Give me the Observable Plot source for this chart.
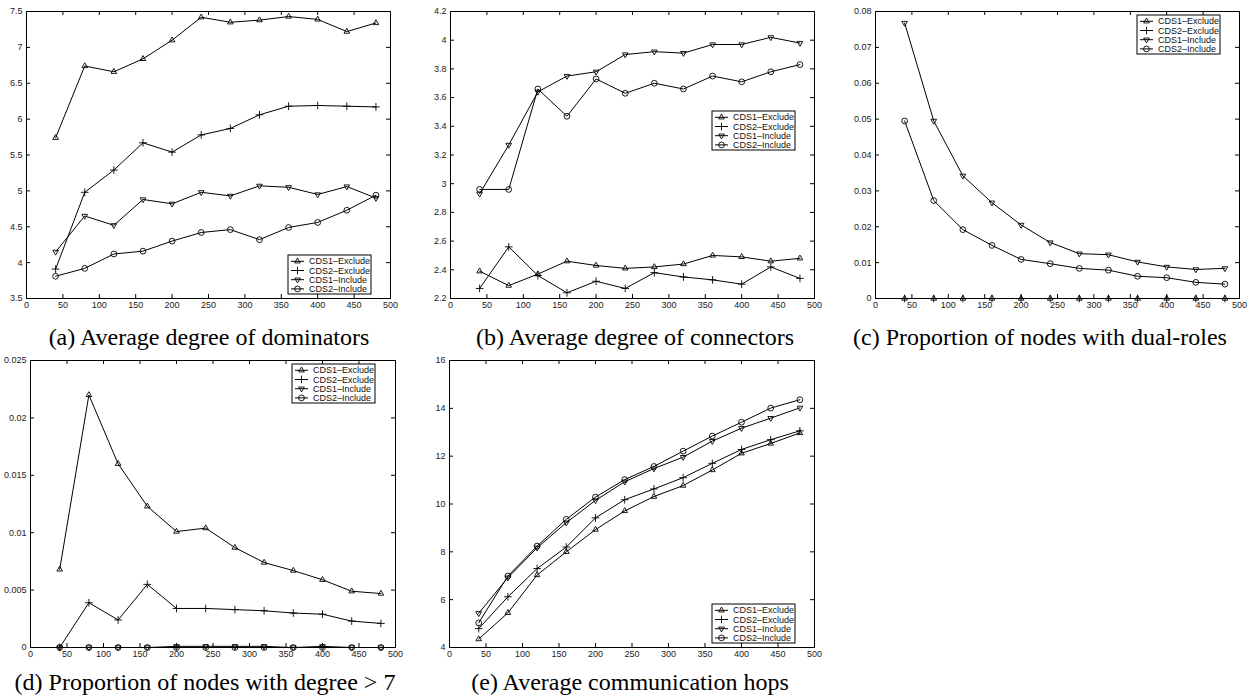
<!DOCTYPE html>
<html><head><meta charset="utf-8">
<script src="https://cdn.jsdelivr.net/npm/d3@7"></script>
<script src="https://cdn.jsdelivr.net/npm/@observablehq/plot@0.6"></script>
<style>
body{margin:0;background:#fff;overflow:hidden}
#root{position:relative;width:1250px;height:698px;background:#fff}
.panel{position:absolute}
.cap{position:absolute;font-family:"Liberation Serif","Times New Roman",serif;font-size:24px;white-space:nowrap;transform:translateX(-50%);line-height:1;color:#000}
</style></head><body><div id="root"></div>
<script>
// ---------- data ----------
const nodes = [40, 80, 120, 160, 200, 240, 280, 320, 360, 400, 440, 480];
const seriesNames = ["CDS1–Exclude", "CDS2–Exclude", "CDS1–Include", "CDS2–Include"];
const xTicks = [0, 50, 100, 150, 200, 250, 300, 350, 400, 450, 500];

// (a) Average degree of dominators
const aCDS1Exclude = [5.74, 6.74, 6.66, 6.84, 7.10, 7.42, 7.35, 7.38, 7.43, 7.39, 7.22, 7.34];
const aCDS2Exclude = [3.91, 4.98, 5.29, 5.67, 5.54, 5.78, 5.87, 6.06, 6.18, 6.19, 6.18, 6.17];
const aCDS1Include = [4.15, 4.65, 4.52, 4.88, 4.82, 4.98, 4.93, 5.07, 5.05, 4.95, 5.06, 4.90];
const aCDS2Include = [3.81, 3.92, 4.12, 4.16, 4.30, 4.42, 4.46, 4.32, 4.49, 4.56, 4.73, 4.94];
const aYTicks = [3.5, 4, 4.5, 5, 5.5, 6, 6.5, 7, 7.5];
const aCaption = "(a) Average degree of dominators";

// (b) Average degree of connectors
const bCDS1Exclude = [2.39, 2.29, 2.37, 2.46, 2.43, 2.41, 2.42, 2.44, 2.50, 2.49, 2.46, 2.48];
const bCDS2Exclude = [2.27, 2.56, 2.36, 2.24, 2.32, 2.27, 2.38, 2.35, 2.33, 2.30, 2.42, 2.34];
const bCDS1Include = [2.93, 3.27, 3.64, 3.75, 3.78, 3.90, 3.92, 3.91, 3.97, 3.97, 4.02, 3.98];
const bCDS2Include = [2.96, 2.96, 3.66, 3.47, 3.73, 3.63, 3.70, 3.66, 3.75, 3.71, 3.78, 3.83];
const bYTicks = [2.2, 2.4, 2.6, 2.8, 3, 3.2, 3.4, 3.6, 3.8, 4, 4.2];
const bCaption = "(b) Average degree of connectors";

// (c) Proportion of nodes with dual-roles
const cCDS1Exclude = [0, 0, 0, 0, 0, 0, 0, 0, 0, 0, 0, 0];
const cCDS2Exclude = [0, 0, 0, 0, 0, 0, 0, 0, 0, 0, 0, 0];
const cCDS1Include = [0.0768, 0.0495, 0.0342, 0.0267, 0.0205, 0.0156, 0.0125, 0.0122, 0.0102, 0.0088, 0.0081, 0.0084];
const cCDS2Include = [0.0495, 0.0273, 0.0192, 0.0148, 0.0109, 0.0097, 0.0084, 0.0079, 0.0062, 0.0058, 0.0045, 0.0040];
const cYTicks = [0, 0.01, 0.02, 0.03, 0.04, 0.05, 0.06, 0.07, 0.08];
const cCaption = "(c) Proportion of nodes with dual-roles";

// (d) Proportion of nodes with degree > 7
const dCDS1Exclude = [0.0068, 0.0220, 0.0160, 0.0123, 0.0101, 0.0104, 0.0087, 0.0074, 0.0067, 0.0059, 0.0049, 0.0047];
const dCDS2Exclude = [0, 0.0039, 0.0024, 0.0055, 0.0034, 0.0034, 0.0033, 0.0032, 0.0030, 0.0029, 0.0023, 0.0021];
const dCDS1Include = [0, 0, 0, 0, 0.0001, 0.0001, 0.0001, 0.0001, 0, 0.0001, 0, 0];
const dCDS2Include = [0, 0, 0, 0, 0, 0, 0, 0, 0, 0, 0, 0];
const dYTicks = [0, 0.005, 0.01, 0.015, 0.02, 0.025];
const dCaption = "(d) Proportion of nodes with degree > 7";

// (e) Average communication hops
const eCDS1Exclude = [4.35, 5.45, 7.03, 8.00, 8.93, 9.71, 10.31, 10.77, 11.42, 12.12, 12.53, 12.97];
const eCDS2Exclude = [4.79, 6.12, 7.30, 8.20, 9.42, 10.18, 10.63, 11.10, 11.70, 12.28, 12.69, 13.06];
const eCDS1Include = [5.43, 6.92, 8.17, 9.22, 10.15, 10.93, 11.48, 11.96, 12.63, 13.17, 13.59, 14.02];
const eCDS2Include = [5.03, 6.99, 8.24, 9.36, 10.29, 11.02, 11.57, 12.21, 12.84, 13.42, 14.01, 14.36];
const eYTicks = [4, 6, 8, 10, 12, 14, 16];
const eCaption = "(e) Average communication hops";

// ---------- symbols ----------
const triDown = {
  draw(context, size) {
    const s = Math.sqrt(size) * 0.6824, t = s / 2, u = s * Math.sqrt(3) / 2;
    context.moveTo(0, s); context.lineTo(u, -t); context.lineTo(-u, -t); context.closePath();
  }
};
const markerSymbols = ["triangle2", "plus", triDown, "circle"];
const markerR = [2.7, 2.6, 2.7, 2.9];
const d3Sym = [d3.symbolTriangle2, d3.symbolPlus, triDown, d3.symbolCircle];

const root = document.getElementById("root");

function panel(cfg) {
  const {L, T, R, B, yDomain, yTicks, series, legend, caption, capX, capY} = cfg;
  const mL = 30, mT = 8, mR = 14, mB = 18;
  const W = R - L, H = B - T;
  const rows = [];
  series.forEach((vals, si) => vals.forEach((v, i) => rows.push({series: seriesNames[si], si, x: nodes[i], y: v})));
  const marks = [
    Plot.axisX({ticks: xTicks, tickSize: 0, tickPadding: 3, label: null, tickFormat: d => String(d)}),
    Plot.axisY({ticks: yTicks, tickSize: 0, tickPadding: 4, label: null, tickFormat: d => String(+d.toFixed(4))}),
    Plot.tickX(xTicks, {x: d => d, insetTop: H - 4, stroke: "black"}),
    Plot.tickX(xTicks, {x: d => d, insetBottom: H - 4, stroke: "black"}),
    Plot.tickY(yTicks, {y: d => d, insetRight: W - 4, stroke: "black"}),
    Plot.tickY(yTicks, {y: d => d, insetLeft: W - 4, stroke: "black"}),
    Plot.line(rows, {x: "x", y: "y", z: "series", stroke: "black", strokeWidth: 1})
  ];
  for (let si = 0; si < 4; si++) {
    marks.push(Plot.dot(rows.filter(r => r.si === si), {x: "x", y: "y", symbol: markerSymbols[si], r: markerR[si], stroke: "black", fill: "none", strokeWidth: 0.9}));
  }
  marks.push(Plot.frame({stroke: "black", strokeWidth: 1}));
  const svg = Plot.plot({
    width: W + mL + mR, height: H + mT + mB,
    marginLeft: mL, marginRight: mR, marginTop: mT, marginBottom: mB,
    x: {domain: [0, 500]}, y: {domain: yDomain},
    style: {fontFamily: "'Liberation Sans', Arial, sans-serif", fontSize: "9px", color: "#222", background: "transparent", overflow: "visible"},
    marks
  });
  const sl = L - mL, st = T - mT;
  svg.classList.add("panel");
  svg.style.left = sl + "px"; svg.style.top = st + "px";
  // legend
  const g = d3.select(svg).append("g").attr("transform", `translate(${legend.x - sl},${legend.y - st})`)
    .attr("text-anchor", "start");
  const lw = 83, lh = 39;
  g.append("rect").attr("width", lw).attr("height", lh).attr("fill", "white").attr("stroke", "black").attr("stroke-width", 1);
  seriesNames.forEach((name, i) => {
    const cy = 6.3 + i * 9.2;
    g.append("line").attr("x1", 3).attr("x2", 16).attr("y1", cy).attr("y2", cy).attr("stroke", "black");
    g.append("path").attr("d", d3.symbol(d3Sym[i], markerR[i] * markerR[i] * Math.PI)()).attr("transform", `translate(9.5,${cy})`).attr("fill", "none").attr("stroke", "black").attr("stroke-width", 0.9);
    g.append("text").attr("x", 21).attr("y", cy).attr("dy", "0.35em").attr("font-size", 9).attr("fill", "#111").attr("text-anchor", "start").text(name);
  });
  root.appendChild(svg);
  const c = document.createElement("div");
  c.className = "cap"; c.textContent = caption;
  c.style.left = capX + "px"; c.style.top = (capY - 20) + "px";
  root.appendChild(c);
}

panel({L: 26, T: 11, R: 390, B: 298, yDomain: [3.5, 7.5], yTicks: aYTicks,
  series: [aCDS1Exclude, aCDS2Exclude, aCDS1Include, aCDS2Include],
  legend: {x: 288, y: 255}, caption: aCaption, capX: 209, capY: 345});
panel({L: 450, T: 11, R: 814, B: 298, yDomain: [2.2, 4.2], yTicks: bYTicks,
  series: [bCDS1Exclude, bCDS2Exclude, bCDS1Include, bCDS2Include],
  legend: {x: 712, y: 111}, caption: bCaption, capX: 635, capY: 345});
panel({L: 875, T: 11, R: 1239, B: 298, yDomain: [0, 0.08], yTicks: cYTicks,
  series: [cCDS1Exclude, cCDS2Exclude, cCDS1Include, cCDS2Include],
  legend: {x: 1137, y: 15}, caption: cCaption, capX: 1040, capY: 345});
panel({L: 30, T: 360, R: 395, B: 647, yDomain: [0, 0.025], yTicks: dYTicks,
  series: [dCDS1Exclude, dCDS2Exclude, dCDS1Include, dCDS2Include],
  legend: {x: 292, y: 364}, caption: dCaption, capX: 205, capY: 690});
panel({L: 449, T: 360, R: 814, B: 647, yDomain: [4, 16], yTicks: eYTicks,
  series: [eCDS1Exclude, eCDS2Exclude, eCDS1Include, eCDS2Include],
  legend: {x: 712, y: 604}, caption: eCaption, capX: 630, capY: 690});
</script>
</body></html>
